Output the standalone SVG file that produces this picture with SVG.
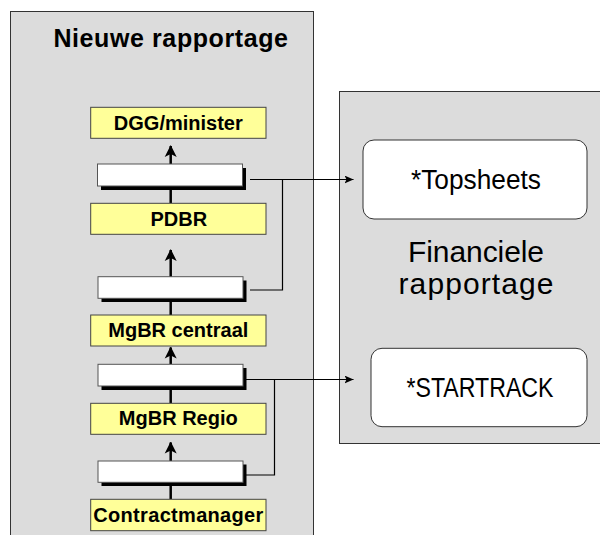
<svg xmlns="http://www.w3.org/2000/svg" width="600" height="535" viewBox="0 0 600 535">
  <style>
    .panel { fill: #dcdcdc; stroke: #333; stroke-width: 1; }
    .level { fill: #ffff99; stroke: #444; stroke-width: 1; }
    .level-text { font-family: "Liberation Sans", Arial, sans-serif; font-weight: bold; font-size: 20px; fill: #000; text-anchor: middle; }
    .report { fill: #fff; stroke: #555; stroke-width: 1; }
    .shadow { fill: #000; }
    .system { fill: #fff; stroke: #333; stroke-width: 1; }
    .system-text { font-family: "Liberation Sans", Arial, sans-serif; font-size: 27px; fill: #000; text-anchor: middle; }
    .title { font-family: "Liberation Sans", Arial, sans-serif; font-weight: bold; font-size: 25px; fill: #000; text-anchor: middle; }
    .caption { font-family: "Liberation Sans", Arial, sans-serif; font-size: 30px; fill: #000; text-anchor: middle; }
    .flow { stroke: #000; stroke-width: 2.5; fill: none; }
    .feed { stroke: #000; stroke-width: 1.2; fill: none; }
  </style>
  <defs>
    <marker id="up" markerUnits="userSpaceOnUse" markerWidth="12" markerHeight="13" refX="11" refY="6" orient="auto" viewBox="0 0 12 12">
      <path d="M0,0 L12,6 L0,12 L3,6 Z" fill="#000"/>
    </marker>
    <marker id="right" markerUnits="userSpaceOnUse" markerWidth="9" markerHeight="8" refX="9" refY="4" orient="auto" viewBox="0 0 9 8">
      <path d="M0,0 L9,4 L0,8 L2,4 Z" fill="#000"/>
    </marker>
  </defs>

  <!-- panels -->
  <g id="panel-nieuwe-rapportage">
    <rect class="panel" x="10.5" y="11.5" width="303" height="540"/>
    <text class="title" x="171" y="47" letter-spacing="0.6">Nieuwe rapportage</text>
  </g>
  <g id="panel-financiele-rapportage">
    <rect class="panel" x="339.5" y="91.5" width="280" height="352"/>
    <text class="caption" x="476" y="261.5" textLength="136" lengthAdjust="spacing">Financiele</text>
    <text class="caption" x="476" y="293.5" textLength="155" lengthAdjust="spacing">rapportage</text>
  </g>

  <!-- connectors -->
  <g id="connectors">
    <line class="flow" x1="170.7" y1="164" x2="170.7" y2="146" marker-end="url(#up)"/>
    <line class="flow" x1="170.7" y1="190" x2="170.7" y2="203"/>
    <line class="flow" x1="170.7" y1="277" x2="170.7" y2="250" marker-end="url(#up)"/>
    <line class="flow" x1="170.7" y1="302" x2="170.7" y2="315"/>
    <line class="flow" x1="170.7" y1="364" x2="170.7" y2="347.5" marker-end="url(#up)"/>
    <line class="flow" x1="170.7" y1="390" x2="170.7" y2="403"/>
    <line class="flow" x1="170.7" y1="461" x2="170.7" y2="442.5" marker-end="url(#up)"/>
    <line class="flow" x1="170.7" y1="486" x2="170.7" y2="499"/>

    <path class="feed" d="M250,179.5 H353.5" marker-end="url(#right)"/>
    <path class="feed" d="M250,290 H282.5 V179.5"/>
    <path class="feed" d="M246,379.5 H353.5" marker-end="url(#right)"/>
    <path class="feed" d="M246,475 H274.5 V379.5"/>
  </g>

  <!-- organisation levels -->
  <g id="node-dgg-minister">
    <rect class="level" x="90.7" y="107.3" width="175.3" height="31"/>
    <text class="level-text" x="178.3" y="129.5">DGG/minister</text>
  </g>
  <g id="node-report-1">
    <rect class="shadow" x="101" y="168" width="145" height="22"/>
    <rect class="report" x="97.5" y="164" width="145" height="22"/>
  </g>
  <g id="node-pdbr">
    <rect class="level" x="90.7" y="203.3" width="175.3" height="31"/>
    <text class="level-text" x="178.8" y="225.7">PDBR</text>
  </g>
  <g id="node-report-2">
    <rect class="shadow" x="101.5" y="280.5" width="145" height="21.5"/>
    <rect class="report" x="98" y="276.7" width="145" height="21.6"/>
  </g>
  <g id="node-mgbr-centraal">
    <rect class="level" x="90.7" y="315" width="175.3" height="31"/>
    <text class="level-text" x="178.3" y="336.7">MgBR centraal</text>
  </g>
  <g id="node-report-3">
    <rect class="shadow" x="101.5" y="368" width="145" height="22"/>
    <rect class="report" x="98" y="364.3" width="145" height="21.7"/>
  </g>
  <g id="node-mgbr-regio">
    <rect class="level" x="90.7" y="403.3" width="175.3" height="31"/>
    <text class="level-text" x="178.3" y="425">MgBR Regio</text>
  </g>
  <g id="node-report-4">
    <rect class="shadow" x="101.5" y="464.5" width="145" height="21.5"/>
    <rect class="report" x="98" y="461" width="145" height="21.3"/>
  </g>
  <g id="node-contractmanager">
    <rect class="level" x="90.7" y="499.3" width="175.3" height="31.4"/>
    <text class="level-text" x="178.3" y="521.7" textLength="170" lengthAdjust="spacing">Contractmanager</text>
  </g>

  <!-- financial systems -->
  <g id="node-topsheets">
    <rect class="system" x="363" y="140" width="224" height="79" rx="11"/>
    <text class="system-text" x="476" y="188.5" textLength="130" lengthAdjust="spacingAndGlyphs">*Topsheets</text>
  </g>
  <g id="node-startrack">
    <rect class="system" x="371" y="348.3" width="216" height="78.4" rx="11"/>
    <text class="system-text" x="480" y="396.7" textLength="147" lengthAdjust="spacingAndGlyphs">*STARTRACK</text>
  </g>
</svg>
